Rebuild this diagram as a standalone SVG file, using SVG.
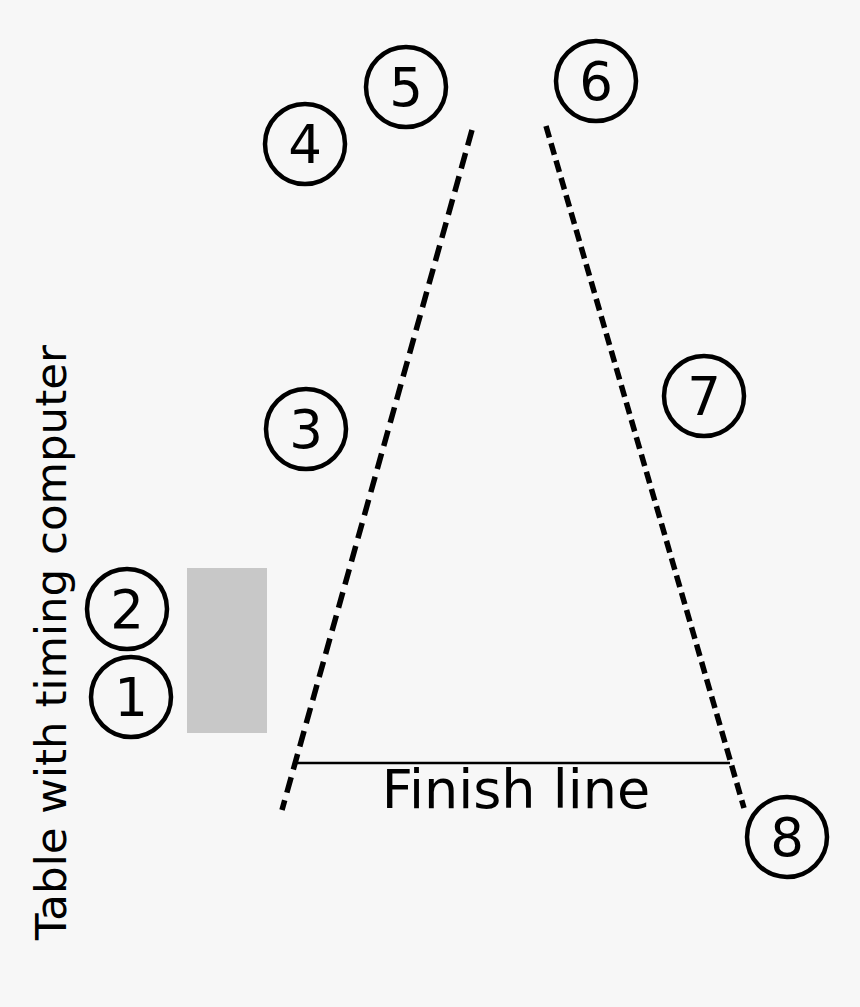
<svg xmlns="http://www.w3.org/2000/svg" width="860" height="1007" viewBox="0 0 860 1007">
<style>
.c circle{fill:none;stroke:#000;stroke-width:4.5}
.c text{font-family:"DejaVu Sans",sans-serif;font-size:53px;text-anchor:middle;fill:#000}
.lbl{font-family:"DejaVu Sans",sans-serif;fill:#000}
</style>
<rect width="860" height="1007" fill="#f7f7f7"/>
<g id="table"><rect x="187" y="568" width="80" height="165" fill="#c8c8c8"/></g>
<g id="connectors" fill="none" stroke="#000">
<line x1="472" y1="130" x2="282" y2="810" stroke-width="5.5" stroke-dasharray="16,8"/>
<line x1="546" y1="126" x2="744" y2="808" stroke-width="5.5" stroke-dasharray="12,6"/>
<line x1="297" y1="763" x2="730" y2="763" stroke-width="2.5"/>
</g>
<g id="n1" class="c"><circle cx="131" cy="697" r="40"/><text x="131" y="716">1</text></g>
<g id="n2" class="c"><circle cx="127" cy="609" r="40"/><text x="127" y="628">2</text></g>
<g id="n3" class="c"><circle cx="306" cy="429" r="40"/><text x="306" y="448">3</text></g>
<g id="n4" class="c"><circle cx="305" cy="144" r="40"/><text x="305" y="163">4</text></g>
<g id="n5" class="c"><circle cx="406" cy="87" r="40"/><text x="406" y="106">5</text></g>
<g id="n6" class="c"><circle cx="596" cy="81" r="40"/><text x="596" y="100">6</text></g>
<g id="n7" class="c"><circle cx="704" cy="396" r="40"/><text x="704" y="415">7</text></g>
<g id="n8" class="c"><circle cx="787" cy="837" r="40"/><text x="787" y="856">8</text></g>
<g id="finish"><text class="lbl" x="516" y="808" font-size="54" text-anchor="middle">Finish line</text></g>
<g id="tablelabel"><text class="lbl" font-size="43.5" transform="translate(66,940) rotate(-90)">Table with timing computer</text></g>
</svg>
